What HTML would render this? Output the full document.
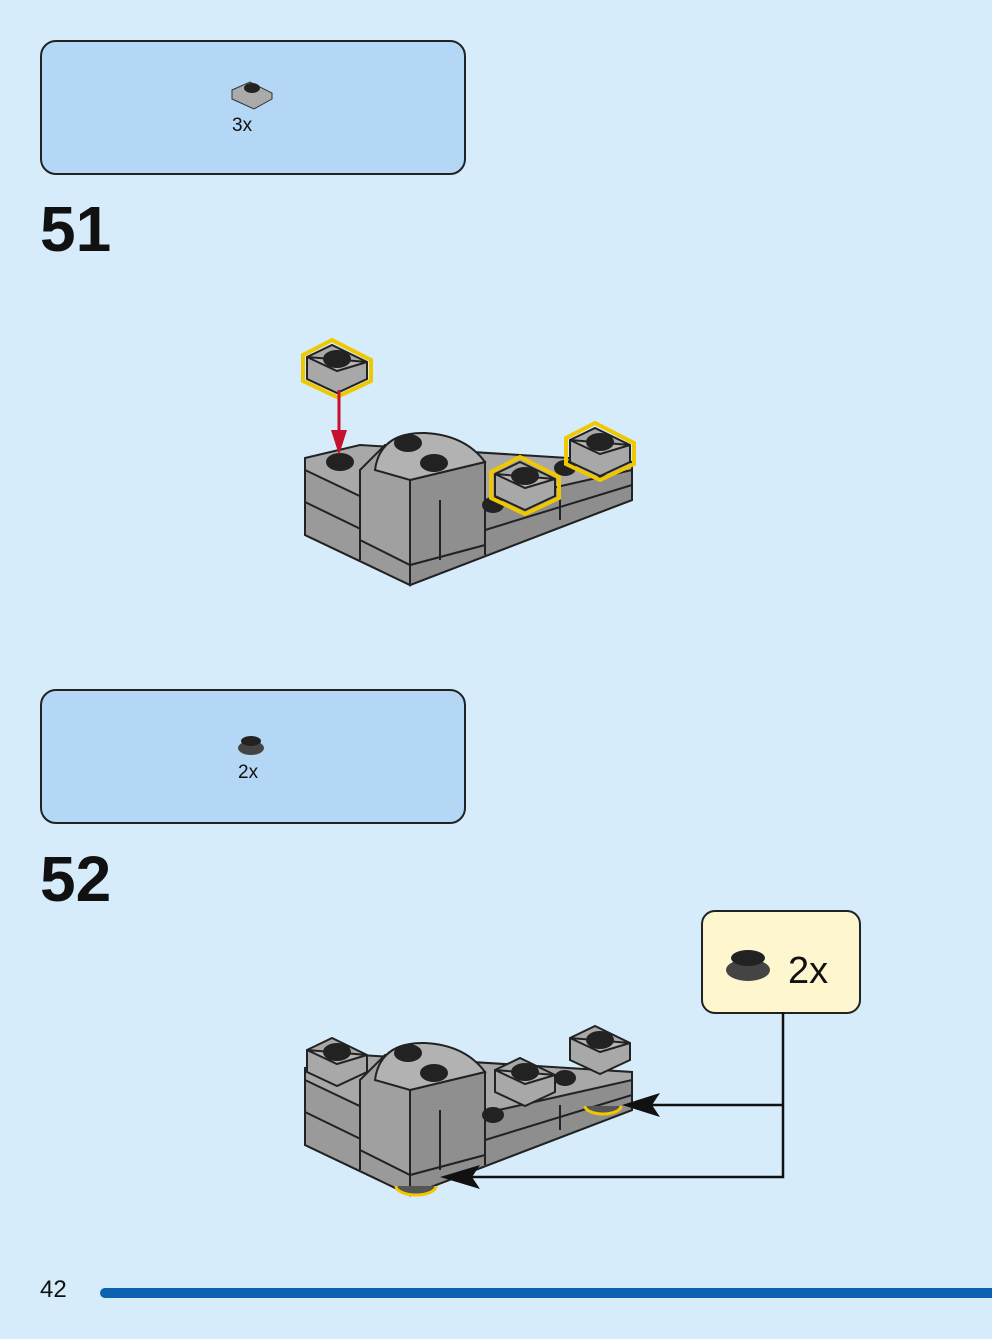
<!DOCTYPE html>
<html><head><meta charset="utf-8"><style>
body{margin:0;background:#d6ecfa;width:992px;height:1339px;overflow:hidden;position:relative;font-family:"Liberation Sans",sans-serif}
.box{position:absolute;left:40px;width:422px;height:131px;background:#b3d7f4;border:2px solid #222;border-radius:16px}
.num{position:absolute;left:40px;font-size:64px;font-weight:bold;color:#111}
.lbl{position:absolute;font-size:19px;color:#111}
</style></head><body>
<div class="box" style="top:40px"></div>
<div class="lbl" style="left:232px;top:115px">3x</div>
<div class="num" style="top:192px">51</div>
<div class="box" style="top:689px"></div>
<div class="lbl" style="left:238px;top:762px">2x</div>
<div class="num" style="top:842px">52</div>
<div style="position:absolute;left:701px;top:910px;width:156px;height:100px;background:#fdf6cf;border:2px solid #222;border-radius:14px"></div>
<div style="position:absolute;left:788px;top:950px;font-size:38px;color:#111">2x</div>
<div style="position:absolute;left:40px;top:1276px;font-size:24px;color:#111">42</div>
<div style="position:absolute;left:100px;top:1288px;width:892px;height:10px;background:#0a62b0;border-radius:5px 0 0 5px"></div>
<svg width="992" height="1339" style="position:absolute;left:0;top:0">
<defs>
<g id="model" stroke="#222" stroke-width="2">
 <polygon points="305,458 360,445 632,462 632,500 410,585 305,535" fill="#a8a8a8"/>
 <polygon points="305,470 410,520 410,585 305,535" fill="#9a9a9a"/>
 <polygon points="410,520 632,470 632,500 410,585" fill="#8e8e8e"/>
 <line x1="305" y1="502" x2="410" y2="553"/><line x1="410" y1="553" x2="632" y2="485"/>
 <line x1="360" y1="525" x2="360" y2="560"/><line x1="485" y1="530" x2="485" y2="555"/><line x1="560" y1="495" x2="560" y2="520"/>
 <polygon points="360,470 385,445 485,465 485,545 410,565 360,540" fill="#a0a0a0"/>
 <polygon points="410,480 485,462 485,545 410,565" fill="#8f8f8f"/>
 <line x1="440" y1="500" x2="440" y2="560"/>
 <path d="M375,470 Q380,432 425,433 Q465,435 485,462 L410,480 Z" fill="#b2b2b2"/>
 <ellipse cx="408" cy="443" rx="13" ry="8" fill="#222"/>
 <ellipse cx="434" cy="463" rx="13" ry="8" fill="#222"/>
 <ellipse cx="340" cy="462" rx="13" ry="8" fill="#222"/>
 <ellipse cx="493" cy="505" rx="10" ry="7" fill="#222"/>
 <ellipse cx="565" cy="468" rx="10" ry="7" fill="#222"/>
</g>
<g id="plate" stroke="#222" stroke-width="2">
 <polygon points="0,0 25,-12 60,5 60,22 30,36 0,22" fill="#a8a8a8"/>
 <polygon points="0,0 30,14 60,5" fill="#b5b5b5"/>
 <ellipse cx="30" cy="2" rx="13" ry="8" fill="#222"/>
</g>
<g id="yp"><polygon points="-4,-2 25,-17 64,3 64,24 30,40 -4,24" fill="none" stroke="#f0c800" stroke-width="4"/><use href="#plate"/></g>
</defs>
<use href="#model"/>
<use href="#yp" x="307" y="357"/>
<use href="#yp" x="495" y="474"/>
<use href="#yp" x="570" y="440"/>
<line x1="339" y1="390" x2="339" y2="440" stroke="#c8102e" stroke-width="3"/>
<polygon points="331,430 347,430 339,455" fill="#c8102e"/>
<g transform="translate(0,610)"><use href="#model"/></g>
<use href="#plate" x="307" y="1050"/>
<use href="#plate" x="495" y="1070"/>
<use href="#plate" x="570" y="1038"/>
<path d="M585,1106 A18,8 0 0 0 621,1106" fill="#555" stroke="#f0c800" stroke-width="3"/>
<path d="M396,1186 A20,9 0 0 0 436,1186" fill="#555" stroke="#f0c800" stroke-width="3"/>
<polyline points="783,1012 783,1177 460,1177" fill="none" stroke="#111" stroke-width="2.5"/>
<line x1="783" y1="1105" x2="640" y2="1105" stroke="#111" stroke-width="2.5"/>
<polygon points="622,1105 660,1093 652,1105 660,1117" fill="#111"/>
<polygon points="440,1177 480,1165 472,1177 480,1189" fill="#111"/>
<polygon points="232,90 250,82 272,93 272,99 254,109 232,99" fill="#aaa" stroke="#333"/>
<ellipse cx="252" cy="88" rx="8" ry="5" fill="#222"/>
<ellipse cx="251" cy="748" rx="13" ry="7" fill="#444"/><ellipse cx="251" cy="741" rx="10" ry="5" fill="#222"/>
<ellipse cx="748" cy="970" rx="22" ry="11" fill="#444"/><ellipse cx="748" cy="958" rx="17" ry="8" fill="#222"/>
</svg>
</body></html>
